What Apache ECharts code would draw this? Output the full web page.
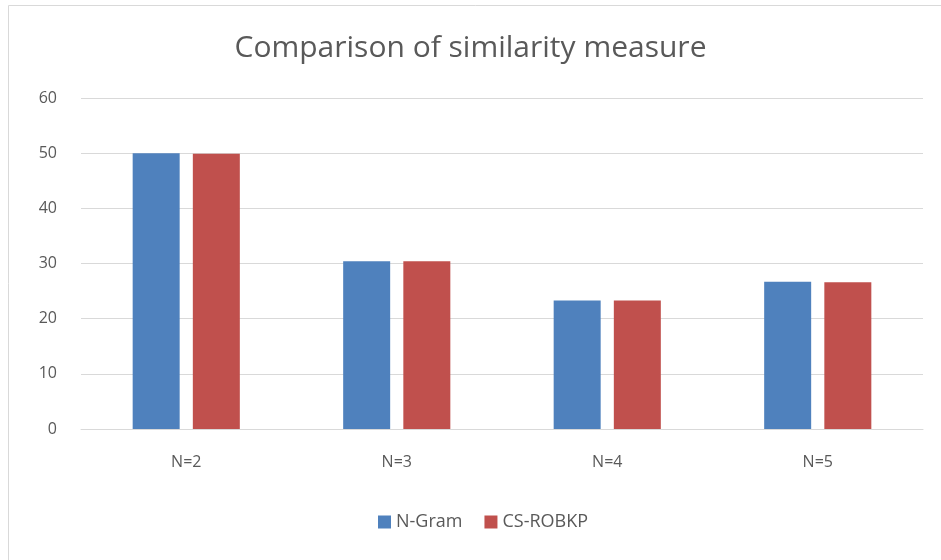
<!DOCTYPE html>
<html>
<head>
<meta charset="utf-8">
<script src="https://cdn.jsdelivr.net/npm/echarts@6/dist/echarts.min.js"></script>
<style>
  html, body { margin: 0; padding: 0; background: #fff; }
  #main { width: 941px; height: 560px; }
</style>
</head>
<body>
<div id="main"></div>
<script>
var categories = ['N=2', 'N=3', 'N=4', 'N=5'];
var nGram = [50, 30.4, 23.3, 26.7];
var csRobkp = [49.9, 30.4, 23.3, 26.6];
var yTicks = [0, 10, 20, 30, 40, 50, 60];

var myChart = echarts.init(document.getElementById('main'));
var textColor = '#595959';
var option = {
    animation: false,
    title: {
        text: 'Comparison of similarity measure',
        left: 'center',
        top: 28,
        textStyle: {
            color: textColor,
            fontSize: 30,
            fontWeight: 'normal',
            fontFamily: 'Open Sans'
        }
    },
    graphic: [{
        type: 'rect',
        shape: { x: 8.5, y: 5.5, width: 960, height: 600 },
        style: { fill: 'none', stroke: '#d9d9d9', lineWidth: 1 },
        silent: true
    }],
    legend: {
        data: ['N-Gram', 'CS-ROBKP'],
        bottom: 24,
        left: 373,
        icon: 'rect',
        itemWidth: 13,
        itemHeight: 13,
        itemGap: 22,
        textStyle: { color: textColor, fontSize: 18, fontFamily: 'Open Sans' }
    },
    grid: {
        left: 81,
        right: 18,
        top: 98,
        bottom: 131
    },
    xAxis: {
        type: 'category',
        data: categories,
        axisLine: { lineStyle: { color: '#d9d9d9', width: 1 } },
        axisTick: { show: false },
        axisLabel: { color: textColor, fontSize: 16, margin: 25, fontFamily: 'Open Sans' }
    },
    yAxis: {
        type: 'value',
        min: yTicks[0],
        max: yTicks[yTicks.length - 1],
        interval: 10,
        axisLine: { show: false },
        axisTick: { show: false },
        splitLine: { lineStyle: { color: '#d9d9d9', width: 1 } },
        axisLabel: { color: textColor, fontSize: 16, margin: 24, fontFamily: 'Open Sans' }
    },
    series: [
        {
            name: 'N-Gram',
            type: 'bar',
            data: nGram,
            barWidth: 47,
            barGap: '28%',
            itemStyle: { color: '#4f81bd' }
        },
        {
            name: 'CS-ROBKP',
            type: 'bar',
            data: csRobkp,
            barWidth: 47,
            barGap: '28%',
            itemStyle: { color: '#c0504d' }
        }
    ]
};
myChart.setOption(option);
</script>
</body>
</html>
